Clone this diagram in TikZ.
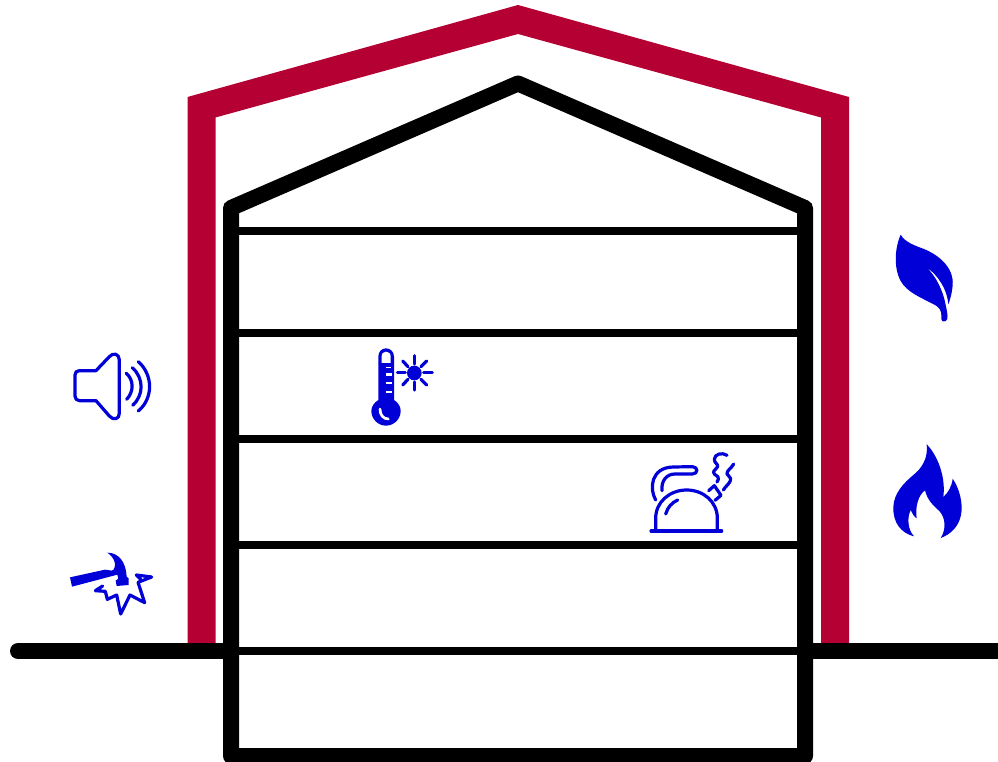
\documentclass[tikz,border=0pt]{standalone}
\definecolor{wall}{RGB}{180,0,50}
\definecolor{icon}{RGB}{0,0,215}
\tikzset{
  inner wall/.style={draw=black,line width=12pt,line join=round},
  storey/.style={draw=black,line width=5.4pt},
  groundline/.style={draw=black,line width=12pt},
  iconline/.style={draw=icon,line width=2.4pt,line cap=round,line join=round,fill=none},
  icongrid/.style={shift={(#1)},scale=1/3}
}
\begin{document}
\begin{tikzpicture}[x=0.75pt,y=-0.75pt]
\useasboundingbox (0,0) rectangle (998,762);
\clip (0,0) rectangle (998,762);
% outer wall
\fill[wall] (187.5,97) -- (518,5) -- (849,97) -- (849,644) -- (821,644) -- (821,117.5) -- (518,34) -- (215.5,117.5) -- (215.5,644) -- (187.5,644) -- cycle;
% ground
\draw[groundline,line cap=round] (18,651) -- (231,651);
\draw[groundline] (805,651) -- (1005,651);
% storeys
\foreach \yy in {231,333,439,545,651}
  \draw[storey] (231,\yy) -- (805,\yy);
% house
\draw[inner wall] (231,208) -- (518,83.5) -- (805,208) -- (805,756) -- (231,756) -- cycle;

% speaker
\begin{scope}[icongrid={50,330}]
\draw[iconline] (138,122) -- (88,122) .. controls (80,122) and (75,127) .. (75,135) -- (75,198) .. controls (75,206) and (80,212) .. (88,212) -- (138,212) -- (178,258) .. controls (190,272) and (208,268) .. (208,250) -- (208,90) .. controls (208,72) and (190,66) .. (178,80) -- cycle;
\draw[iconline] (229,130) .. controls (252,150) and (252,185) .. (230,208);
\draw[iconline] (247,113) .. controls (282,145) and (282,195) .. (248,226);
\draw[iconline] (265,95) .. controls (310,135) and (310,205) .. (265,243);
\end{scope}

% hammer
\begin{scope}[icongrid={50,530}]
\fill[icon] (60,142) -- (165,119) .. controls (172,118) and (178,122) .. (184,122) .. controls (195,122) and (195,105) .. (195,100) .. controls (192,85) and (182,75) .. (172,68) .. controls (205,68) and (228,95) .. (230,140) -- (236,145) -- (236,165) -- (200,168) -- (197,152) -- (205,146) -- (202,134) -- (66,170) -- cycle;
\draw[iconline] (158,168) -- (136,182) -- (166,184) -- (172,208) -- (200,195) -- (212,252) -- (240,195) -- (284,218) -- (264,157) -- (305,141) -- (259,135) -- (272,148);
\end{scope}

% thermometer and sun
\begin{scope}[icongrid={350,335}]
\fill[icon] (85,195) -- (85,65) .. controls (85,50) and (95,40) .. (108,40) .. controls (121,40) and (132,50) .. (132,65) -- (132,195) .. controls (145,203) and (152,215) .. (152,228) .. controls (152,252) and (132,272) .. (108,272) .. controls (84,272) and (64,252) .. (64,228) .. controls (64,215) and (72,203) .. (85,195) -- cycle;
\fill[white] (95,84) -- (95,65) .. controls (95,55) and (100,50) .. (108,50) .. controls (116,50) and (122,55) .. (122,65) -- (122,84) -- cycle;
\fill[white] (108,96) rectangle (124,100);
\fill[white] (108,114) rectangle (125,122);
\fill[white] (108,140) rectangle (125,148);
\fill[white] (108,167) rectangle (125,175);
\draw[white,line width=2pt,line cap=round] (90,222) .. controls (90,240) and (100,252) .. (115,252);
\fill[icon] (193,114) circle (22);
\foreach \xa/\ya/\xb/\yb in {142/113/166/113,221/113/247/113,193/62/193/87,193/141/193/165,158/78/174/95,230/78/213/95,158/150/174/133,230/150/213/133}
  \draw[iconline] (\xa,\ya) -- (\xb,\yb);
\end{scope}

% kettle
\begin{scope}[icongrid={635,440}]
\draw[iconline] (48,273) -- (260,273);
\draw[iconline] (62,273) -- (62,235) .. controls (62,185) and (105,150) .. (155,150) .. controls (205,150) and (247,185) .. (247,235) -- (247,273);
\draw[iconline] (92,222) .. controls (98,202) and (110,188) .. (128,180);
\draw[iconline] (62,180) .. controls (42,145) and (48,82) .. (115,81) -- (172,80) .. controls (190,80) and (190,102) .. (172,102) -- (120,102) .. controls (95,102) and (78,122) .. (81,152);
\draw[iconline] (221,152) -- (238,137) -- (258,166) -- (240,181);
\draw[iconline] (276,46) .. controls (262,36) and (238,42) .. (238,58) .. controls (238,70) and (250,72) .. (248,80) .. controls (246,88) and (234,90) .. (236,98) .. controls (238,108) and (252,105) .. (250,118) -- (246,126);
\draw[iconline] (296,72) .. controls (292,82) and (274,92) .. (276,102) .. controls (278,110) and (290,110) .. (286,122) .. controls (283,132) and (272,138) .. (265,150);
\end{scope}

% leaf
\begin{scope}[icongrid={880,225}]
\fill[icon] (62,29) .. controls (75,52) and (105,62) .. (132,72) .. controls (180,92) and (222,130) .. (218,180) .. controls (216,205) and (210,225) .. (205,238) .. controls (202,195) and (175,150) .. (138,126) .. controls (168,152) and (190,200) .. (197,240) .. controls (200,255) and (204,270) .. (202,282) .. controls (198,292) and (184,292) .. (184,282) .. controls (184,268) and (186,255) .. (170,243) .. controls (140,225) and (95,210) .. (70,180) .. controls (45,150) and (38,85) .. (62,29) -- cycle;
\end{scope}

% flame
\begin{scope}[icongrid={880,435}]
\fill[icon] (140,28) .. controls (172,60) and (198,125) .. (190,186) .. controls (205,172) and (215,155) .. (218,131) .. controls (238,160) and (250,205) .. (243,240) .. controls (236,275) and (212,298) .. (182,309) .. controls (198,285) and (198,250) .. (178,228) .. controls (160,212) and (142,195) .. (135,166) .. controls (115,180) and (105,215) .. (110,250) .. controls (102,245) and (96,235) .. (92,225) .. controls (80,250) and (84,285) .. (102,304) .. controls (65,295) and (38,265) .. (40,215) .. controls (42,175) and (70,145) .. (100,120) .. controls (125,100) and (145,70) .. (140,28) -- cycle;
\end{scope}
\end{tikzpicture}
\end{document}
